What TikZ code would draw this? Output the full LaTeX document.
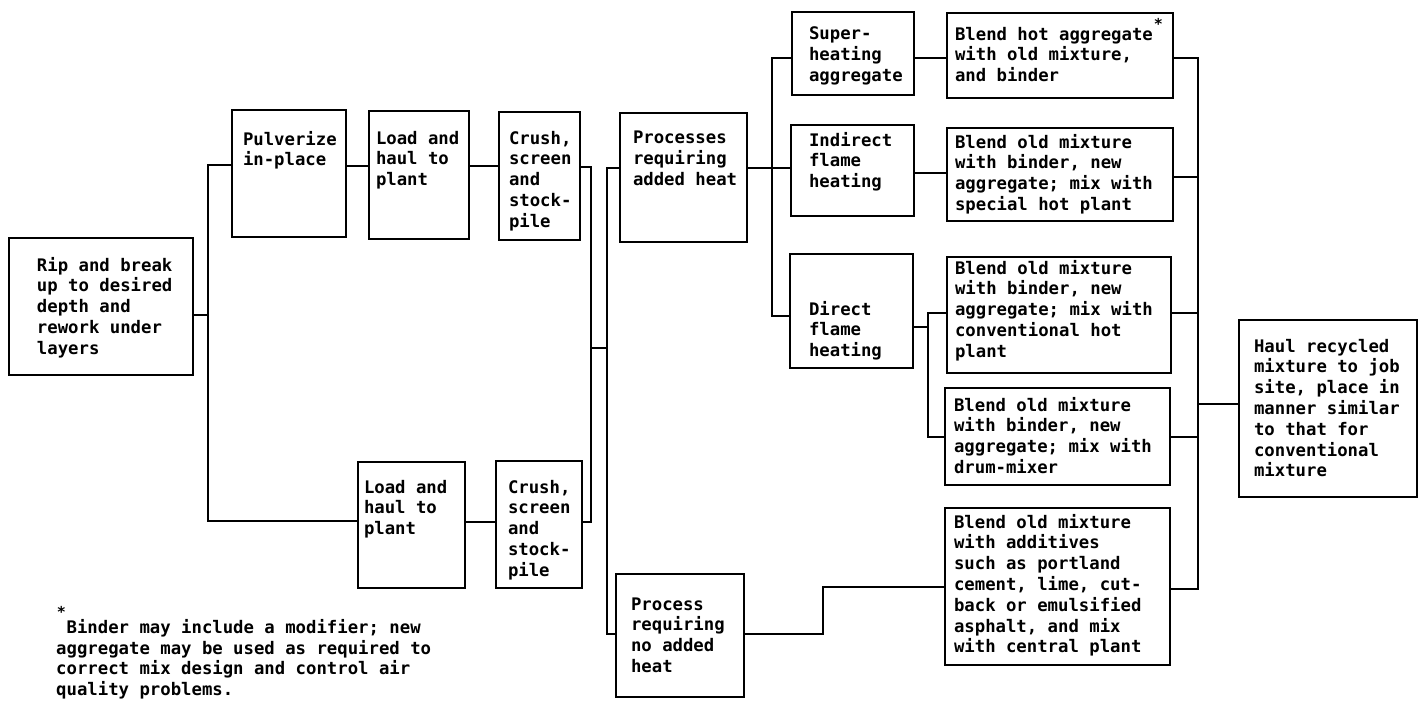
\documentclass[tikz,border=0pt]{standalone}
\usepackage{fontspec}
\setmainfont{DejaVu Sans Mono}
\newcommand\bxt[5]{\begin{minipage}[t][#2][t]{#1}\raggedright\leftskip=#3\relax\vspace*{\dimexpr#4-13pt\relax}\noindent\rule{0pt}{13pt}#5\end{minipage}}
\newcommand\astx[1]{\smash{\raisebox{#1}{\fontsize{15}{15}\selectfont\bfseries *}}}
\begin{document}
\begin{tikzpicture}[x=1pt,y=-1pt,
  box/.style={draw=black,line width=2pt,inner sep=0pt,anchor=north west,font=\fontsize{17.3}{20.8}\selectfont\bfseries},
  txt/.style={inner sep=0pt,anchor=north west,font=\fontsize{17.3}{20.8}\selectfont\bfseries},
  conn/.style={line width=2pt}]
\useasboundingbox (0,0) rectangle (1425,701);
% boxes
\node[box] (rip) at (8,237) {\bxt{184pt}{137pt}{28pt}{32pt}{Rip and break\\up to desired\\depth and\\rework under\\layers}};
\node[box] (pulv) at (231,109) {\bxt{114pt}{127pt}{11pt}{34pt}{Pulverize\\in-place}};
\node[box] (load1) at (368,110) {\bxt{100pt}{128pt}{7pt}{33pt}{Load and\\haul to\\plant}};
\node[box] (crush1) at (498,111) {\bxt{81pt}{128pt}{10pt}{32pt}{Crush,\\screen\\and\\stock-\\pile}};
\node[box] (proc) at (619,112) {\bxt{127pt}{129pt}{13pt}{31pt}{Processes\\requiring\\added heat}};
\node[box] (super) at (791,11) {\bxt{122pt}{83pt}{17pt}{28pt}{Super-\\heating\\aggregate}};
\node[box] (indir) at (790,124) {\bxt{123pt}{91pt}{18pt}{20pt}{Indirect\\flame\\heating}};
\node[box] (direct) at (789,253) {\bxt{123pt}{114pt}{19pt}{60pt}{Direct\\flame\\heating}};
\node[box] (bl1) at (946,12) {\bxt{226pt}{85pt}{8pt}{27pt}{Blend hot aggregate\rlap{\hspace{1pt}\astx{11pt}}\\with old mixture,\\and binder}};
\node[box] (bl2) at (946,127) {\bxt{226pt}{93pt}{8pt}{19pt}{Blend old mixture\\with binder, new\\aggregate; mix with\\special hot plant}};
\node[box] (bl3) at (946,256) {\bxt{224pt}{116pt}{8pt}{16pt}{Blend old mixture\\with binder, new\\aggregate; mix with\\conventional hot\\plant}};
\node[box] (bl4) at (944,387) {\bxt{225pt}{97pt}{9pt}{22pt}{Blend old mixture\\with binder, new\\aggregate; mix with\\drum-mixer}};
\node[box] (bl5) at (944,507) {\bxt{225pt}{157pt}{9pt}{19pt}{Blend old mixture\\with additives\\such as portland\\cement, lime, cut-\\back or emulsified\\asphalt, and mix\\with central plant}};
\node[box] (haul) at (1238,319) {\bxt{178pt}{177pt}{15pt}{32pt}{Haul recycled\\mixture to job\\site, place in\\manner similar\\to that for\\conventional\\mixture}};
\node[box] (load2) at (357,461) {\bxt{107pt}{126pt}{6pt}{31pt}{Load and\\haul to\\plant}};
\node[box] (crush2) at (495,460) {\bxt{86pt}{127pt}{12pt}{32pt}{Crush,\\screen\\and\\stock-\\pile}};
\node[box] (noheat) at (615,573) {\bxt{128pt}{123pt}{15pt}{36pt}{Process\\requiring\\no added\\heat}};
\node[txt] (foot) at (56,619) {\bxt{440pt}{80pt}{0pt}{13pt}{\makebox[10.41pt]{\astx{16pt}}Binder may include a modifier; new\\aggregate may be used as required to\\correct mix design and control air\\quality problems.}};
% junction coordinates
\coordinate (jR) at (208,315);
\coordinate (jA1) at (208,165);
\coordinate (jA2) at (208,521);
\coordinate (r1) at (400,166);
\coordinate (r2) at (400,522);
\coordinate (jB1) at (591,167);
\coordinate (jB2) at (591,522);
\coordinate (jB3) at (591,348);
\coordinate (jC3) at (607,348);
\coordinate (jC1) at (607,168);
\coordinate (jC2) at (607,634);
\coordinate (jD1) at (772,58);
\coordinate (jD2) at (772,316);
\coordinate (jD3) at (772,168);
\coordinate (r3) at (930,173);
\coordinate (jE) at (928,327);
\coordinate (jE1) at (928,313);
\coordinate (jE2) at (928,437);
\coordinate (jF1) at (823,634);
\coordinate (jF2) at (823,587);
\coordinate (jG1) at (1198,58);
\coordinate (jG2) at (1198,177);
\coordinate (jG3) at (1198,313);
\coordinate (jG4) at (1198,437);
\coordinate (jG5) at (1198,589);
\coordinate (jH) at (1198,404);
% connectors
\draw[conn] (rip.east |- jR) -- (jR);
\draw[conn] (pulv.west |- jA1) -- (jA1) -- (jA2) -- (load2.west |- jA2);
\draw[conn] (pulv.east |- r1) -- (load1.west |- r1);
\draw[conn] (load1.east |- r1) -- (crush1.west |- r1);
\draw[conn] (crush1.east |- jB1) -- (jB1) -- (jB2) -- (crush2.east |- jB2);
\draw[conn] (load2.east |- r2) -- (crush2.west |- r2);
\draw[conn] (jB3) -- (jC3);
\draw[conn] (proc.west |- jC1) -- (jC1) -- (jC2) -- (noheat.west |- jC2);
\draw[conn] (super.west |- jD1) -- (jD1) -- (jD2) -- (direct.west |- jD2);
\draw[conn] (proc.east |- jD3) -- (indir.west |- jD3);
\draw[conn] (super.east |- jD1) -- (bl1.west |- jD1);
\draw[conn] (indir.east |- r3) -- (bl2.west |- r3);
\draw[conn] (direct.east |- jE) -- (jE);
\draw[conn] (bl3.west |- jE1) -- (jE1) -- (jE2) -- (bl4.west |- jE2);
\draw[conn] (noheat.east |- jF1) -- (jF1) -- (jF2) -- (bl5.west |- jF2);
\draw[conn] (bl1.east |- jG1) -- (jG1) -- (jG5) -- (bl5.east |- jG5);
\draw[conn] (bl2.east |- jG2) -- (jG2);
\draw[conn] (bl3.east |- jG3) -- (jG3);
\draw[conn] (bl4.east |- jG4) -- (jG4);
\draw[conn] (jH) -- (haul.west |- jH);
\end{tikzpicture}
\end{document}
